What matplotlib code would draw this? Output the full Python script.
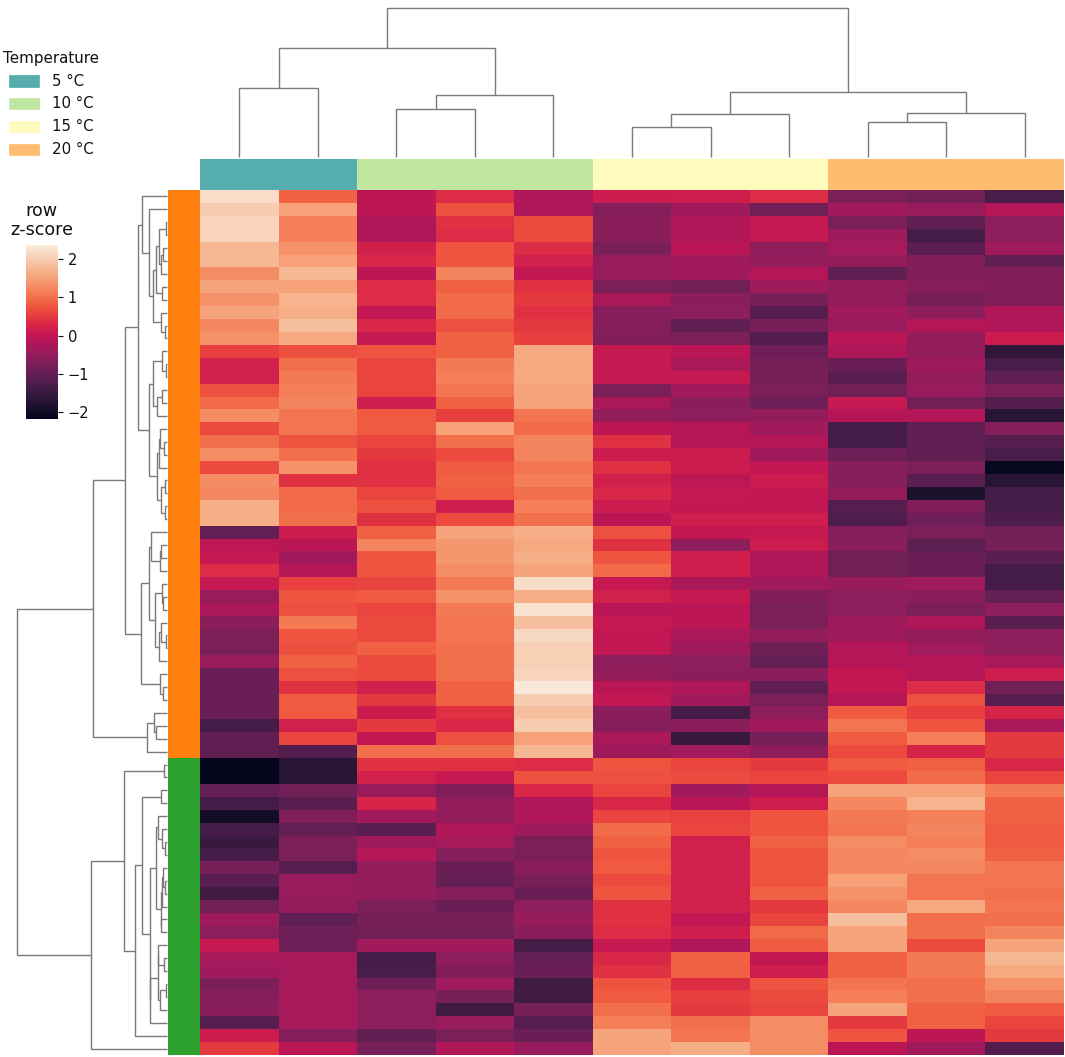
import numpy as np
import matplotlib
matplotlib.use("Agg")
import matplotlib.pyplot as plt
from matplotlib.colors import ListedColormap
from matplotlib.patches import Rectangle
import seaborn as sns

# ---------- data ----------
temperature_labels = ["5 °C", "10 °C", "15 °C", "20 °C"]
temperature_colors = ["#55adae", "#c0e69f", "#fffbbd", "#fdbc70"]
column_temperature = [0, 0, 1, 1, 1, 2, 2, 2, 3, 3, 3]
row_cluster_colors = ["#ff7f0e", "#2ca02c"]
row_cluster = [0] * 44 + [1] * 23

zscore_upper = [
    [2.2, 0.85, -0.05, 0.35, -0.2, 0.1, 0.15, 0.35, -0.75, -0.85, -1.3],
    [2.0, 1.5, -0.05, 0.7, -0.2, -0.65, -0.35, -0.85, -0.35, -0.45, -0.15],
    [2.1, 1.15, -0.2, 0.4, 0.65, -0.6, -0.2, 0.05, -0.75, -1.05, -0.55],
    [2.1, 1.15, -0.2, 0.35, 0.65, -0.6, -0.2, 0.05, -0.4, -1.35, -0.55],
    [1.75, 1.35, 0.2, 0.75, 0.35, -0.75, -0.1, -0.55, -0.3, -1.1, -0.4],
    [1.75, 1.5, 0.3, 0.75, 0.2, -0.45, -0.35, -0.5, -0.5, -0.7, -1.05],
    [1.3, 1.75, -0.05, 1.2, 0.0, -0.45, -0.35, -0.15, -1.05, -0.7, -0.7],
    [1.55, 1.5, 0.35, 0.85, 0.4, -0.75, -0.85, -0.4, -0.5, -0.65, -0.7],
    [1.35, 1.7, 0.35, 0.95, 0.5, -0.25, -0.6, -0.8, -0.5, -0.8, -0.7],
    [1.55, 1.65, 0.0, 0.95, 0.4, -0.65, -0.55, -1.15, -0.35, -0.55, -0.2],
    [1.25, 1.85, 0.3, 0.7, 0.5, -0.65, -1.05, -0.8, -0.45, -0.15, -0.2],
    [1.35, 1.6, 0.05, 0.85, 0.55, -0.7, -0.75, -1.2, -0.1, -0.5, 0.1],
    [0.55, 0.7, 0.75, 0.85, 1.6, 0.05, -0.1, -0.9, -0.2, -0.5, -1.6],
    [0.2, 1.0, 0.6, 1.1, 1.6, 0.05, -0.25, -0.8, -0.95, -0.4, -1.3],
    [0.2, 1.1, 0.6, 1.15, 1.6, 0.05, 0.05, -0.8, -1.1, -0.5, -1.05],
    [0.7, 1.15, 0.6, 1.05, 1.55, -0.75, -0.35, -0.75, -0.85, -0.45, -0.75],
    [0.95, 1.2, 0.15, 0.85, 1.55, -0.25, -0.6, -0.9, 0.05, -0.85, -1.2],
    [1.3, 1.05, 0.8, 0.55, 1.05, -0.5, -0.55, -0.5, -0.15, -0.15, -1.7],
    [0.65, 1.05, 0.8, 1.5, 0.95, -0.05, -0.15, -0.35, -1.35, -1.05, -0.65],
    [1.0, 0.75, 0.6, 1.0, 1.2, 0.4, -0.15, -0.15, -1.35, -1.05, -1.15],
    [1.3, 1.0, 0.5, 0.65, 1.2, 0.1, 0.1, -0.35, -0.9, -1.05, -1.3],
    [0.65, 1.35, 0.4, 0.8, 1.05, 0.4, 0.1, 0.0, -0.65, -0.75, -2.1],
    [1.3, 0.4, 0.4, 0.85, 1.15, 0.2, -0.05, 0.1, -0.65, -1.1, -1.7],
    [1.25, 0.95, 0.6, 0.8, 1.0, 0.3, 0.05, 0.0, -0.5, -1.85, -1.35],
    [1.65, 0.95, 0.7, 0.15, 1.15, 0.1, 0.0, 0.0, -1.15, -0.7, -1.35],
    [1.65, 1.0, 0.4, 0.65, 1.0, -0.1, 0.15, 0.15, -1.25, -0.9, -1.25],
    [-1.0, 0.1, 0.85, 1.55, 1.65, 0.7, 0.0, 0.05, -0.65, -0.75, -0.85],
    [-0.05, -0.1, 1.2, 1.4, 1.6, 0.4, -0.55, 0.1, -0.6, -1.1, -0.8],
    [0.05, -0.35, 0.75, 1.4, 1.65, 0.75, 0.15, -0.2, -0.85, -0.95, -1.1],
    [0.35, -0.15, 0.75, 1.3, 1.55, 0.95, 0.15, -0.2, -0.85, -0.95, -1.35],
    [0.05, 0.55, 0.6, 1.1, 2.2, 0.05, -0.25, -0.35, -0.45, -0.35, -1.35],
    [-0.45, 0.75, 0.8, 1.35, 1.65, 0.2, 0.05, -0.7, -0.55, -0.6, -1.0],
    [-0.25, 0.7, 0.6, 1.1, 2.25, -0.1, -0.05, -0.75, -0.55, -0.75, -0.55],
    [-0.6, 1.1, 0.65, 1.05, 1.85, 0.05, -0.05, -0.75, -0.4, -0.2, -1.1],
    [-0.75, 0.75, 0.65, 1.05, 2.15, 0.0, -0.25, -0.5, -0.4, -0.5, -0.55],
    [-0.75, 0.7, 0.85, 1.0, 2.05, 0.0, -0.4, -0.85, -0.15, -0.35, -0.55],
    [-0.45, 0.85, 0.65, 1.0, 2.05, -0.55, -0.55, -1.0, -0.15, -0.15, -0.3],
    [-0.95, 0.7, 0.65, 1.0, 2.1, -0.5, -0.6, -0.6, 0.0, -0.15, 0.15],
    [-0.95, 0.4, 0.2, 0.85, 2.35, -0.1, -0.2, -1.05, 0.0, 0.35, -0.85],
    [-0.95, 0.8, 0.5, 0.85, 2.0, 0.0, -0.35, -0.75, -0.15, 0.7, -1.15],
    [-0.95, 0.8, 0.1, 0.4, 1.85, -0.6, -1.35, -0.55, 0.8, 0.55, 0.25],
    [-1.35, 0.2, 0.5, 0.3, 2.0, -0.65, -0.6, -0.35, 1.05, 0.75, -0.25],
    [-1.05, 0.6, 0.0, 0.7, 1.5, -0.25, -1.5, -0.8, 0.8, 1.15, 0.5],
    [-1.05, -1.2, 1.0, 1.0, 1.75, -0.4, -0.35, -0.55, 0.65, 0.25, 0.5],
]
zscore_lower = [
    [-2.15, -1.7, 0.4, 0.4, 0.35, 0.75, 0.6, 0.5, 0.8, 0.85, 0.3],
    [-2.15, -1.7, 0.2, 0.05, 0.7, 0.7, 0.65, 0.6, 0.65, 0.95, 0.6],
    [-1.0, -0.85, -0.45, -0.7, 0.3, 0.6, -0.35, -0.15, 1.55, 1.5, 1.1],
    [-1.35, -1.1, 0.25, -0.5, -0.2, 0.3, -0.1, 0.15, 1.25, 1.7, 0.85],
    [-1.95, -0.7, -0.35, -0.5, -0.2, 0.6, 0.55, 0.75, 1.1, 1.15, 0.85],
    [-1.35, -1.0, -1.1, -0.2, -0.4, 0.95, 0.6, 0.75, 1.05, 1.2, 0.8],
    [-1.5, -0.75, -0.4, -0.3, -0.75, 0.85, 0.2, 0.85, 1.3, 1.15, 0.8],
    [-1.35, -0.75, -0.15, -0.65, -0.75, 0.75, 0.2, 0.75, 1.25, 1.3, 0.85],
    [-0.8, -1.15, -0.5, -0.95, -0.6, 0.8, 0.2, 0.75, 1.25, 1.25, 1.05],
    [-1.1, -0.45, -0.5, -1.0, -0.75, 0.65, 0.2, 0.75, 1.5, 1.05, 1.05],
    [-1.4, -0.45, -0.5, -0.65, -0.95, 0.75, 0.2, 0.85, 1.35, 1.05, 1.0],
    [-0.85, -0.5, -0.75, -0.95, -0.55, 0.4, 0.2, 0.5, 1.25, 1.6, 1.05],
    [-0.4, -1.05, -0.8, -0.8, -0.45, 0.4, 0.0, 0.6, 1.85, 1.0, 1.0],
    [-0.55, -0.9, -0.85, -0.85, -0.6, 0.35, 0.15, 0.95, 1.55, 1.0, 1.2],
    [0.05, -0.9, -0.35, -0.35, -1.35, 0.05, -0.2, 0.8, 1.55, 0.65, 1.55],
    [-0.3, -0.3, -1.35, -0.55, -1.0, 0.3, 0.85, 0.0, 0.85, 1.1, 1.75],
    [-0.35, -0.3, -1.3, -0.7, -0.95, 0.4, 0.85, 0.15, 0.85, 1.1, 1.6],
    [-0.75, -0.3, -0.9, -0.35, -1.4, 0.75, 0.35, 0.75, 1.05, 1.0, 1.35],
    [-0.65, -0.3, -0.55, -0.8, -1.4, 0.8, 0.55, 0.65, 1.15, 1.0, 1.2],
    [-0.6, -0.3, -0.55, -1.4, -0.8, 1.0, 0.5, 0.6, 1.55, 0.85, 0.8],
    [-1.15, -0.3, -0.55, -0.45, -1.15, 1.15, 1.0, 1.3, 0.5, 0.85, 0.6],
    [0.1, -0.65, -1.05, -0.75, -0.95, 1.55, 1.05, 1.3, 0.75, -0.05, 0.5],
    [0.5, -0.1, -0.8, -0.2, -0.45, 1.55, 1.65, 1.3, -0.1, -0.35, -1.2],
]

# dendrograms: (merge distance, left branch, right branch); an int is a leaf index
column_tree = (149,
    (109, (69, 0, 1), (62, (48, 2, 3), 4)),
    (65, (43, (30, 5, 6), 7), (44, (35, 8, 9), 10)))

row_tree_a = (25, 0, (18.5, 1, (14,
    (11, (8, (1.5, 2, 3), (6.5, (4.5, 4, 5), 6)), (5.5, 7, 8)),
    (6.5, 9, (2.5, 10, 11)))))
row_tree_b = (18.5,
    (14, (5.5, 12, (1.5, 13, 14)), (10, (5.5, 15, 16), 17)),
    (10, (8, (7, 18, (3.5, 19, 20)), 21), (6.5, (2, 22, 23), (2.5, 24, 25))))
row_tree_c = (26,
    (18, (16, 26, (7, (6, 27, 28), 29)),
         (12.5, (5.5, 30, (4.5, 31, 32)), (8.5, (6, 33, (1, 34, 35)), 36))),
    (7.5, 37, (4, 38, 39)))
row_tree_d = (20, (13, 40, (11.5, 41, 42)), 43)
row_tree_orange = (74, (42, (29, row_tree_a, row_tree_b), row_tree_c), row_tree_d)

row_tree_e = (17.5,
    (11, (9, 48, (5, 49, (2, 50, 51))),
         (6.5, (5.5, (4.5, 52, (2, 53, 54)), 55), (6, 56, 57))),
    (16.7, (9.5, (9, 58, (3, 59, 60)), (7.5, (1.5, 61, 62), 63)), 64))
row_tree_green = (76, (43.5, (3, 44, 45), (32.5, (25, (6.5, 46, 47), row_tree_e), 65)), 66)
row_tree = (150, row_tree_orange, row_tree_green)

colorbar_ticks = [-2, -1, 0, 1, 2]
color_min, color_max = -2.18, 2.37

# ---------- layout ----------
W, H = 1065, 1057
plt.rcParams["font.family"] = "DejaVu Sans"
fig = plt.figure(figsize=(W / 100, H / 100), dpi=100)


def pixel_axes(x0, y0, x1, y1):
    return fig.add_axes([x0 / W, 1 - y1 / H, (x1 - x0) / W, (y1 - y0) / H])


def draw_tree(ax, node, vertical_leaves, color="#7a7a7a", lw=1.0):
    """Returns (leaf-axis position, distance) of a node."""
    if isinstance(node, int):
        return node + 0.5, 0.0
    d, left, right = node
    p0, d0 = draw_tree(ax, left, vertical_leaves, color, lw)
    p1, d1 = draw_tree(ax, right, vertical_leaves, color, lw)
    pos = [p0, p0, p1, p1]
    dist = [d0, d, d, d1]
    if vertical_leaves:
        ax.plot(dist, pos, color=color, lw=lw, solid_joinstyle="miter", solid_capstyle="butt")
    else:
        ax.plot(pos, dist, color=color, lw=lw, solid_joinstyle="miter", solid_capstyle="butt")
    return (p0 + p1) / 2, d


HX0, HX1, HY0, HY1 = 200, 1064, 190, 1055
zscore = np.array(zscore_upper + zscore_lower)
n_rows, n_cols = zscore.shape
cmap = sns.color_palette("rocket", as_cmap=True)

# heatmap
ax_heat = pixel_axes(HX0, HY0, HX1, HY1)
mesh = ax_heat.pcolormesh(zscore, cmap=cmap, vmin=color_min, vmax=color_max, antialiased=False)
ax_heat.set_ylim(n_rows, 0)
ax_heat.axis("off")

# column colours
ax_top = pixel_axes(HX0, 159, HX1, HY0)
ax_top.pcolormesh(np.array([column_temperature]), cmap=ListedColormap(temperature_colors),
                  vmin=-0.5, vmax=3.5, antialiased=False)
ax_top.axis("off")

# row colours
ax_side = pixel_axes(168, HY0, HX0, HY1)
ax_side.pcolormesh(np.array(row_cluster)[:, None], cmap=ListedColormap(row_cluster_colors),
                   vmin=-0.5, vmax=1.5, antialiased=False)
ax_side.set_ylim(n_rows, 0)
ax_side.axis("off")

# column dendrogram
ax_cd = pixel_axes(HX0, 8, HX1, 157)
draw_tree(ax_cd, column_tree, False)
ax_cd.set_xlim(0, n_cols)
ax_cd.set_ylim(0, 149)
ax_cd.axis("off")
for line in ax_cd.lines:
    line.set_clip_on(False)

# row dendrogram
ax_rd = pixel_axes(17, HY0, 167, HY1)
draw_tree(ax_rd, row_tree, True)
ax_rd.set_xlim(150, 0)
ax_rd.set_ylim(n_rows, 0)
ax_rd.axis("off")
for line in ax_rd.lines:
    line.set_clip_on(False)

# colour bar
cax = pixel_axes(26, 245, 58, 419)
cb = fig.colorbar(mesh, cax=cax, ticks=colorbar_ticks)
cb.outline.set_visible(False)
cb.ax.tick_params(labelsize=10.5, length=3.5, width=0.8, pad=3.5, colors="#111111")
fig.text(41.5 / W, 1 - 220.5 / H, "row\nz-score", ha="center", va="center",
         fontsize=12.6, linespacing=1.05, color="#111111")

# legend
fig.text(3 / W, 1 - 58 / H, "Temperature", ha="left", va="center", fontsize=10.9, color="#111111")
legend_ys = [81, 104, 126.5, 149]
for label, color, y in zip(temperature_labels, temperature_colors, legend_ys):
    fig.add_artist(Rectangle((9 / W, 1 - (y + 5.5) / H), 30 / W, 11 / H, transform=fig.transFigure,
                             facecolor=color, edgecolor=color, lw=0.5))
    fig.text(52 / W, 1 - y / H, label, ha="left", va="center", fontsize=10.8, color="#111111")

fig.savefig("out.png", dpi=100)
